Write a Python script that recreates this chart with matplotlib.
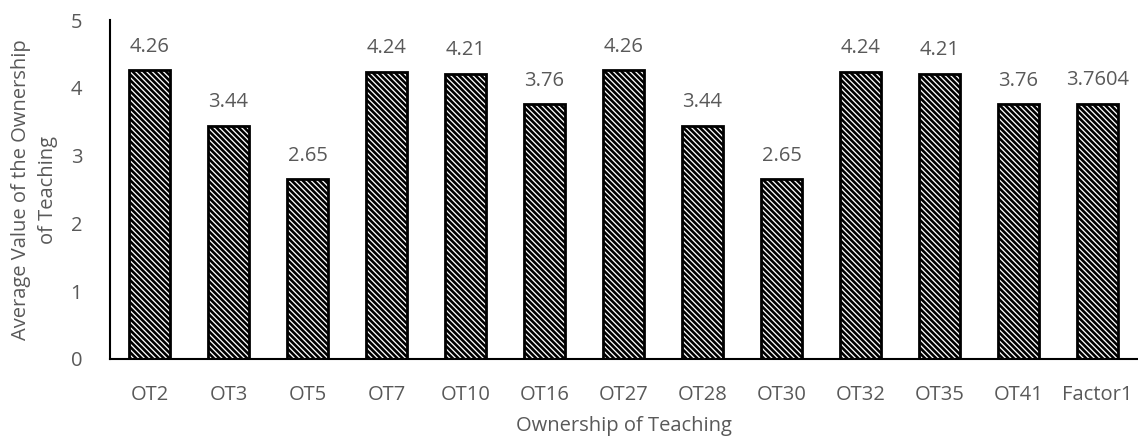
import matplotlib.pyplot as plt
import matplotlib as mpl

categories = ["OT2", "OT3", "OT5", "OT7", "OT10", "OT16", "OT27", "OT28",
              "OT30", "OT32", "OT35", "OT41", "Factor1"]
values = [4.26, 3.44, 2.65, 4.24, 4.21, 3.76, 4.26, 3.44, 2.65, 4.24, 4.21, 3.76, 3.7604]
value_labels = ["4.26", "3.44", "2.65", "4.24", "4.21", "3.76", "4.26", "3.44",
                "2.65", "4.24", "4.21", "3.76", "3.7604"]

plt.rcParams["font.family"] = ["Open Sans", "DejaVu Sans"]
mpl.rcParams["hatch.linewidth"] = 1.9
grey = "#595959"

fig = plt.figure(figsize=(11.38, 4.41), dpi=100)
ax = fig.add_axes([110 / 1138, 1 - 359 / 441, (1137 - 110) / 1138, (359 - 20) / 441])

x = list(range(len(categories)))
ax.bar(x, values, width=0.52, color="white", edgecolor="black",
       linewidth=2.0, hatch="\\\\\\\\\\\\")

for xi, v, lab in zip(x, values, value_labels):
    ax.text(xi, v + 0.2, lab, ha="center", va="bottom", fontsize=14.5, color=grey)

ax.set_xlim(-0.5, len(categories) - 0.5)
ax.set_ylim(0, 5)
ax.set_yticks([0, 1, 2, 3, 4, 5])
ax.set_xticks(x)
ax.set_xticklabels(categories)
ax.tick_params(axis="both", length=0, labelsize=14.5, colors=grey)
ax.tick_params(axis="x", pad=19)
ax.tick_params(axis="y", pad=20)

for s in ["top", "right"]:
    ax.spines[s].set_visible(False)
ax.spines["left"].set_linewidth(1.5)
ax.spines["bottom"].set_linewidth(1.5)
ax.spines["left"].set_color("black")
ax.spines["bottom"].set_color("black")

ax.set_xlabel("Ownership of Teaching", fontsize=14.5, color=grey, labelpad=8)
ax.set_ylabel("Average Value of the Ownership\nof Teaching", fontsize=14.5,
              color=grey, labelpad=9, linespacing=1.45)

fig.savefig("out.png", dpi=100)
